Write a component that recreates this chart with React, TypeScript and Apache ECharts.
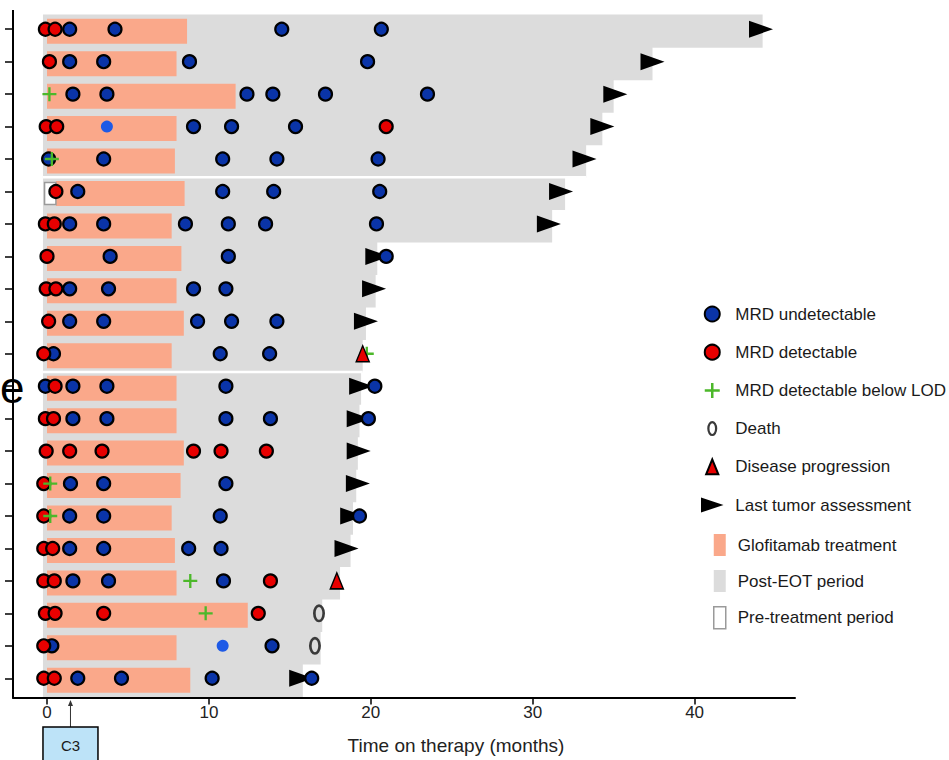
import React, { useEffect, useRef } from "react";
import * as echarts from "echarts";

// ---------------- data ----------------
const patients = [
  "P1", "P2", "P3", "P4", "P5", "P6", "P7", "P8", "P9", "P10", "P11",
  "P12", "P13", "P14", "P15", "P16", "P17", "P18", "P19", "P20", "P21",
];

const treatmentStart = [0, 0, 0, 0, 0, 0.55, 0, 0, 0, 0, 0, 0, 0, 0, 0, 0, 0, 0, 0, 0, 0];
const treatmentEnd = [8.65, 8.0, 11.65, 8.0, 7.9, 8.5, 7.7, 8.3, 8.0, 8.45, 7.7, 8.0, 8.0, 8.45, 8.25, 7.7, 7.9, 8.0, 12.4, 8.0, 8.85];

const postEotStart = [-0.25, -0.25, -0.25, -0.25, -0.25, -0.25, -0.25, -0.25, -0.25, -0.25, -0.25, -0.25, -0.25, -0.25, -0.25, -0.25, -0.25, -0.25, -0.25, -0.25, -0.25];
const postEotEnd = [44.2, 37.4, 35.0, 34.3, 33.3, 32.0, 31.2, 20.4, 20.3, 19.7, 19.5, 19.4, 19.3, 19.2, 19.1, 18.9, 18.75, 18.1, 17.0, 16.9, 15.8];

const preTreatmentRow = [5];
const preTreatmentStart = [-0.15];
const preTreatmentEnd = [0.55];

// separator lines drawn below these rows (0-based)
const separatorAfterRow = [4, 10];

// markers per patient row (months)
const mrdUndetectable: number[][] = [
  [1.4, 4.2, 14.5, 20.65],
  [1.4, 3.5, 8.8, 19.8],
  [1.6, 3.7, 12.35, 13.95, 17.2, 23.5],
  [9.05, 11.4, 15.35],
  [0.1, 3.5, 10.85, 14.2, 20.45],
  [1.9, 10.85, 14.0, 20.55],
  [1.4, 3.5, 8.55, 11.2, 13.5, 20.35],
  [3.9, 11.2, 20.95],
  [1.4, 3.8, 9.05, 11.05],
  [1.4, 3.5, 9.3, 11.4, 14.2],
  [0.4, 10.7, 13.75],
  [-0.1, 1.6, 3.7, 11.05, 20.25],
  [1.6, 3.7, 11.05, 13.8, 19.85],
  [],
  [1.45, 3.5, 11.05],
  [1.4, 3.5, 10.7, 19.3],
  [1.4, 3.5, 8.75, 10.75],
  [1.6, 3.8, 10.9],
  [],
  [0.3, 13.9],
  [1.9, 4.6, 10.2, 16.35],
];

const mrdUndetectableSingle: number[][] = [
  [], [], [], [3.7], [], [], [], [], [], [], [],
  [], [], [], [], [], [], [], [], [10.85], [],
];

const mrdDetectable: number[][] = [
  [-0.1, 0.5],
  [0.15],
  [],
  [-0.05, 0.6, 20.95],
  [],
  [0.55],
  [-0.1, 0.45],
  [0.0],
  [-0.05, 0.55],
  [0.1],
  [-0.2],
  [0.5],
  [-0.1, 0.4],
  [-0.05, 1.4, 3.4, 9.05, 10.75, 13.55],
  [-0.2],
  [-0.2],
  [-0.2, 0.35],
  [-0.2, 0.45, 13.8],
  [-0.1, 0.5, 3.5, 13.05],
  [-0.2],
  [-0.2, 0.45],
];

const mrdBelowLod: number[][] = [
  [], [], [0.15], [], [0.3], [], [], [], [], [], [19.75],
  [], [], [], [0.2], [0.2], [], [8.85], [9.8], [], [],
];

const death: number[][] = [
  [], [], [], [], [], [], [], [], [], [], [],
  [], [], [], [], [], [], [], [16.8], [16.55], [],
];

const progression: number[][] = [
  [], [], [], [], [], [], [], [], [], [], [19.5],
  [], [], [], [], [], [], [17.9], [], [], [],
];

const lastAssessment: number[][] = [
  [44.1], [37.4], [35.1], [34.3], [33.2], [31.75], [31.0], [20.4], [20.2], [19.7], [],
  [19.4], [19.25], [19.25], [19.2], [18.85], [18.5], [], [], [], [15.7],
];

const xTicks = [0, 10, 20, 30, 40];
const xMin = -2.1;
const xMax = 46.2;
const c3Month = 1.45;

// ---------------- styles ----------------
const FONT = "'Liberation Sans', Arial, Helvetica, sans-serif";
const SALMON = "#FAA88A";
const GRAY = "#DCDCDC";
const BLUE = "#0A34A8";
const RED = "#E80000";
const GREEN = "#4CB82A";
const BAR_SHIFT = 2;

const toPoints = (rows: number[][]) =>
  rows.flatMap((ms, i) => ms.map((m) => [m, i]));

const PLUS = "path://M5,0h2v5h5v2h-5v5h-2v-5h-5v-2h5z";
const ARROW = "path://M0,0L24,8L0,16Z";
const TRIANGLE = "path://M6.5,0L13,16L0,16Z";
const RING =
  "path://M6,0A6,9 0 1,1 6,18A6,9 0 1,1 6,0ZM6,2.6A3.3,6.4 0 1,0 6,15.4A3.3,6.4 0 1,0 6,2.6Z";

export default function App() {
  const ref = useRef<HTMLDivElement>(null);

  useEffect(() => {
    const chart = echarts.init(ref.current!, null, { renderer: "svg" });

    const rectRenderer =
      (ratio: number, extra: number, style: any) => (_params: any, api: any) => {
        const row = api.value(0);
        const p0 = api.coord([api.value(1), row]);
        const p1 = api.coord([api.value(2), row]);
        const band = api.size([0, 1])[1];
        const h = band * ratio + extra;
        return {
          type: "rect",
          shape: { x: p0[0], y: p0[1] - h / 2 + BAR_SHIFT, width: p1[0] - p0[0], height: h },
          style,
        };
      };

    const markerBase = {
      type: "scatter" as const,
      z: 3,
    };

    const option: any = {
      animation: false,
      grid: { left: 13, right: 154, top: 13, bottom: 65.5, containLabel: false, outerBoundsMode: "none" },
      xAxis: {
        type: "value",
        min: xMin,
        max: xMax,
        offset: 3,
        splitLine: { show: false },
        axisLine: { show: true, onZero: false, lineStyle: { color: "#000", width: 2 } },
        axisTick: { show: true, customValues: xTicks, length: 7, lineStyle: { color: "#000", width: 1.5 } },
        axisLabel: { customValues: xTicks, fontSize: 17, color: "#222", margin: 6, fontFamily: FONT },
        name: "Time on therapy (months)",
        nameLocation: "middle",
        nameGap: 38,
        nameTextStyle: { fontSize: 19, color: "#222", fontFamily: FONT, padding: [0, 0, 0, 104] },
      },
      yAxis: {
        type: "category",
        data: patients,
        inverse: true,
        axisLine: { show: true, onZero: false, lineStyle: { color: "#000", width: 2 } },
        axisTick: { show: true, alignWithLabel: true, length: 8, lineStyle: { color: "#000", width: 1.5 } },
        axisLabel: { show: false },
        splitLine: { show: false },
      },
      legend: [
        {
          orient: "vertical",
          left: 701,
          top: 305.5,
          padding: 0,
          itemWidth: 30,
          itemHeight: 15,
          itemGap: 21.2,
          textStyle: { fontSize: 17, lineHeight: 17, color: "#1a1a1a", fontFamily: FONT, padding: [0, 0, 0, 3] },
          data: [
            "MRD undetectable",
            "MRD detectable",
            "MRD detectable below LOD",
            "Death",
            "Disease progression",
            "Last tumor assessment",
          ],
        },
        {
          orient: "vertical",
          left: 713,
          top: 534,
          padding: 0,
          itemWidth: 12,
          itemHeight: 22,
          itemGap: 14,
          textStyle: { fontSize: 17, lineHeight: 17, color: "#1a1a1a", fontFamily: FONT, padding: [0, 0, 0, 7] },
          data: [
            { name: "Glofitamab treatment", icon: "rect", itemStyle: { color: SALMON, borderWidth: 0 } },
            { name: "Post-EOT period", icon: "rect", itemStyle: { color: GRAY, borderWidth: 0 } },
            {
              name: "Pre-treatment period",
              icon: "rect",
              itemStyle: { color: "#ffffff", borderColor: "#9a9a9a", borderWidth: 1.5 },
            },
          ],
        },
      ],
      series: [
        {
          name: "Post-EOT period",
          type: "custom",
          z: 1,
          itemStyle: { color: GRAY },
          encode: { x: [1, 2], y: 0 },
          data: patients.map((_, i) => [i, postEotStart[i], postEotEnd[i]]),
          renderItem: rectRenderer(1, 0.8, { fill: GRAY }),
        },
        {
          name: "separator",
          type: "custom",
          z: 1,
          silent: true,
          encode: { x: [1, 2], y: 0 },
          data: separatorAfterRow.map((r) => [
            r,
            Math.min(postEotStart[r], postEotStart[r + 1]),
            Math.max(postEotEnd[r], postEotEnd[r + 1]),
          ]),
          renderItem: (_p: any, api: any) => {
            const row = api.value(0);
            const p0 = api.coord([api.value(1), row]);
            const p1 = api.coord([api.value(2), row]);
            const band = api.size([0, 1])[1];
            const y = p0[1] + band / 2 + BAR_SHIFT;
            return {
              type: "line",
              shape: { x1: p0[0], y1: y, x2: p1[0], y2: y },
              style: { stroke: "#ffffff", lineWidth: 2.5 },
            };
          },
        },
        {
          name: "Glofitamab treatment",
          type: "custom",
          z: 1,
          itemStyle: { color: SALMON },
          encode: { x: [1, 2], y: 0 },
          data: patients.map((_, i) => [i, treatmentStart[i], treatmentEnd[i]]),
          renderItem: rectRenderer(0.77, 0, { fill: SALMON }),
        },
        {
          name: "Pre-treatment period",
          type: "custom",
          z: 1,
          itemStyle: { color: "#ffffff", borderColor: "#9a9a9a", borderWidth: 1.5 },
          encode: { x: [1, 2], y: 0 },
          data: preTreatmentRow.map((r, k) => [r, preTreatmentStart[k], preTreatmentEnd[k]]),
          renderItem: rectRenderer(0.68, 0, { fill: "#ffffff", stroke: "#9a9a9a", lineWidth: 1.5 }),
        },
        {
          ...markerBase,
          name: "Last tumor assessment",
          symbol: ARROW,
          symbolSize: [24, 17],
          symbolKeepAspect: false,
          itemStyle: { color: "#000", opacity: 1 },
          data: toPoints(lastAssessment),
        },
        {
          ...markerBase,
          name: "MRD undetectable",
          symbol: "circle",
          symbolSize: 13,
          itemStyle: { color: BLUE, borderColor: "#000", borderWidth: 2.2, opacity: 1 },
          data: toPoints(mrdUndetectable),
        },
        {
          ...markerBase,
          name: "MRD undetectable (single sample)",
          symbol: "circle",
          symbolSize: 12,
          itemStyle: { color: "#1E5AE6", borderWidth: 0, opacity: 1 },
          data: toPoints(mrdUndetectableSingle),
        },
        {
          ...markerBase,
          name: "MRD detectable",
          symbol: "circle",
          symbolSize: 13,
          itemStyle: { color: RED, borderColor: "#000", borderWidth: 2.2, opacity: 1 },
          data: toPoints(mrdDetectable),
        },
        {
          ...markerBase,
          name: "MRD detectable below LOD",
          symbol: PLUS,
          symbolSize: 14,
          itemStyle: { color: GREEN, opacity: 1 },
          data: toPoints(mrdBelowLod),
        },
        {
          ...markerBase,
          name: "Death",
          symbol: RING,
          symbolSize: [12, 18],
          itemStyle: { color: "#3a3a3a", opacity: 1 },
          data: toPoints(death),
        },
        {
          ...markerBase,
          name: "Disease progression",
          symbol: TRIANGLE,
          symbolSize: [13, 16],
          symbolKeepAspect: false,
          itemStyle: { color: RED, borderColor: "#000", borderWidth: 1.5, opacity: 1 },
          data: toPoints(progression),
        },
      ],
    };

    chart.setOption(option);

    const x0 = chart.convertToPixel({ xAxisIndex: 0 } as any, xMin) as unknown as number;
    const xc = chart.convertToPixel({ xAxisIndex: 0 } as any, c3Month) as unknown as number;

    chart.setOption({
      graphic: [
        {
          type: "line",
          silent: true,
          shape: { x1: x0, y1: 10, x2: x0, y2: 698.6 },
          style: { stroke: "#000", lineWidth: 2 },
        },
        {
          type: "line",
          silent: true,
          shape: { x1: xc, y1: 727, x2: xc, y2: 704 },
          style: { stroke: "#333", lineWidth: 1 },
        },
        {
          type: "polygon",
          silent: true,
          shape: { points: [[xc, 700], [xc - 2.5, 706], [xc + 2.5, 706]] },
          style: { fill: "#333" },
        },
        {
          type: "rect",
          silent: true,
          shape: { x: xc - 27.5, y: 727, width: 55, height: 40 },
          style: { fill: "#BDE3F8", stroke: "#000", lineWidth: 1.5 },
        },
        {
          type: "text",
          silent: true,
          x: xc,
          y: 745,
          style: { text: "C3", fontSize: 15, fontFamily: FONT, fill: "#1a1a1a", align: "center", verticalAlign: "middle" },
        },
        {
          type: "text",
          silent: true,
          x: 0,
          y: 387,
          style: { text: "e", fontSize: 44, fontFamily: FONT, fill: "#000", verticalAlign: "middle" },
        },
      ],
    });

    return () => {
      chart.dispose();
    };
  }, []);

  return (
    <div
      ref={ref}
      style={{ position: "fixed", left: 0, top: 0, width: 949, height: 760, background: "#fff" }}
    />
  );
}
